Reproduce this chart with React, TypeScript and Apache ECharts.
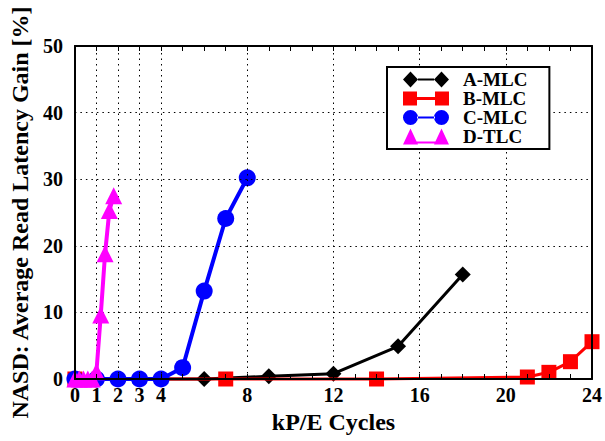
import React, { useEffect, useRef } from "react";
import * as echarts from "echarts";

const seriesNames = ["A-MLC", "B-MLC", "C-MLC", "D-TLC"];
const aX = [0, 3, 6, 9, 12, 15, 18];
const aY = [0, 0, 0, 0.4, 0.8, 4.9, 15.7];
const bX = [0, 7, 14, 21, 22, 23, 24];
const bY = [0, 0, 0, 0.3, 1.0, 2.6, 5.6];
const cX = [0, 1, 2, 3, 4, 5, 6, 7, 8];
const cY = [0, 0, 0, 0, 0, 1.7, 13.2, 24.1, 30.2];
const dX = [0, 0.2, 0.4, 0.6, 0.8, 1.0, 1.2, 1.4, 1.6, 1.8];
const dY = [0, 0, 0, 0, 0, 1.1, 9.6, 18.8, 25.3, 27.5];
const xTickLabels = [0, 1, 2, 3, 4, 8, 12, 16, 20, 24];
const xGridValues = [1, 2, 3, 4, 8, 12, 16, 20];
const yGridValues = [10, 20, 30, 40];

const FONT = "Liberation Serif";

const pair = (xs: number[], ys: number[]) => xs.map((x, i) => [x, ys[i]]);

const DOT = " M55 8 L55.01 8 L55 8.01 Z";
const icons = [
  "path://M0 8 L7.5 0 L15 8 L7.5 16 Z M15 7 L31 7 L31 9 L15 9 Z M31 8 L38.5 0 L46 8 L38.5 16 Z" + DOT,
  "path://M0 1 L14 1 L14 15 L0 15 Z M14 6.5 L32 6.5 L32 9.5 L14 9.5 Z M32 1 L46 1 L46 15 L32 15 Z" + DOT,
  "path://M0 8 A7.5 7.5 0 1 0 15 8 A7.5 7.5 0 1 0 0 8 Z M14 7 L32 7 L32 9 L14 9 Z M31 8 A7.5 7.5 0 1 0 46 8 A7.5 7.5 0 1 0 31 8 Z" + DOT,
  "path://M0 16 L7.5 0 L15 16 Z M12 13 L34 13 L34 15 L12 15 Z M31 16 L38.5 0 L46 16 Z" + DOT,
];

export default function App() {
  const ref = useRef<HTMLDivElement>(null);
  useEffect(() => {
    if (!ref.current) return;
    const chart = echarts.init(ref.current, undefined, { renderer: "svg" });
    const labelStyle = { fontFamily: FONT, fontWeight: "bold" as const, fontSize: 20, color: "#000" };
    const nameStyle = { fontFamily: FONT, fontWeight: "bold" as const, fontSize: 24, color: "#000" };
    const axisLine = { show: true, onZero: false, lineStyle: { color: "#000", width: 2 } };
    const mk = (name: string, data: number[][], color: string, symbol: string, size: number, lw: number, z: number) => ({
      name,
      type: "line",
      data,
      symbol,
      symbolSize: size,
      clip: false,
      z,
      itemStyle: { color },
      lineStyle: { color, width: lw },
    });
    chart.setOption({
      animation: false,
      backgroundColor: "#fff",
      textStyle: { fontFamily: FONT, fontWeight: "bold" },
      grid: { left: 67, right: 10, top: 46, bottom: 62 },
      legend: {
        orient: "vertical",
        left: 387,
        top: 67,
        itemWidth: 55,
        itemHeight: 16,
        itemGap: 0,
        padding: [3, 22, 3, 16],
        borderColor: "#000",
        borderWidth: 2,
        backgroundColor: "#fff",
        z: 20,
        textStyle: { fontFamily: FONT, fontWeight: "bold", fontSize: 19, color: "#000" },
        data: seriesNames.map((n, i) => ({ name: n, icon: icons[i] })),
      },
      xAxis: [
        {
          type: "value",
          min: 0,
          max: 24,
          interval: 1,
          position: "bottom",
          z: 10,
          axisLine,
          axisTick: { show: true, inside: true, length: 5, lineStyle: { color: "#000", width: 1 } },
          axisLabel: {
            ...labelStyle,
            margin: 6,
            formatter: (v: number) => (xTickLabels.includes(v) ? String(v) : ""),
          },
          splitLine: { show: false },
          name: "kP/E Cycles",
          nameLocation: "middle",
          nameGap: 25,
          nameTextStyle: nameStyle,
        },
        {
          type: "value",
          min: 0,
          max: 24,
          interval: 1,
          position: "top",
          z: 10,
          axisLine,
          axisTick: { show: true, inside: true, length: 5, lineStyle: { color: "#000", width: 1 } },
          axisLabel: { show: false },
          splitLine: { show: false },
        },
      ],
      yAxis: [
        {
          type: "value",
          min: 0,
          max: 50,
          interval: 10,
          position: "left",
          z: 10,
          axisLine,
          axisTick: { show: false },
          axisLabel: { ...labelStyle, margin: 12 },
          splitLine: { show: false },
          name: "NASD: Average Read Latency Gain [%]",
          nameLocation: "middle",
          nameGap: 38,
          nameRotate: 90,
          nameTextStyle: nameStyle,
        },
        {
          type: "value",
          min: 0,
          max: 50,
          interval: 10,
          position: "right",
          z: 10,
          axisLine,
          axisTick: { show: false },
          axisLabel: { show: false },
          splitLine: { show: false },
        },
      ],
      series: [
        {
          name: "grid",
          type: "line",
          data: [],
          z: 1,
          silent: true,
          markLine: {
            silent: true,
            symbol: ["none", "none"],
            label: { show: false },
            lineStyle: { color: "#000", width: 1, type: [1.5, 4] },
            data: [
              ...xGridValues.map((v) => ({ xAxis: v })),
              ...yGridValues.map((v) => ({ yAxis: v })),
            ],
          },
        },
        mk("A-MLC", pair(aX, aY), "#000000", "diamond", 16, 3, 2),
        mk("B-MLC", pair(bX, bY), "#ff0000", "rect", 15, 3, 3),
        mk("C-MLC", pair(cX, cY), "#0000ff", "circle", 17, 4, 4),
        mk("D-TLC", pair(dX, dY), "#ff00ff", "triangle", 17, 4, 5),
      ],
    });
    return () => chart.dispose();
  }, []);
  return <div ref={ref} style={{ position: "absolute", left: 0, top: 0, width: 605, height: 441 }} />;
}
